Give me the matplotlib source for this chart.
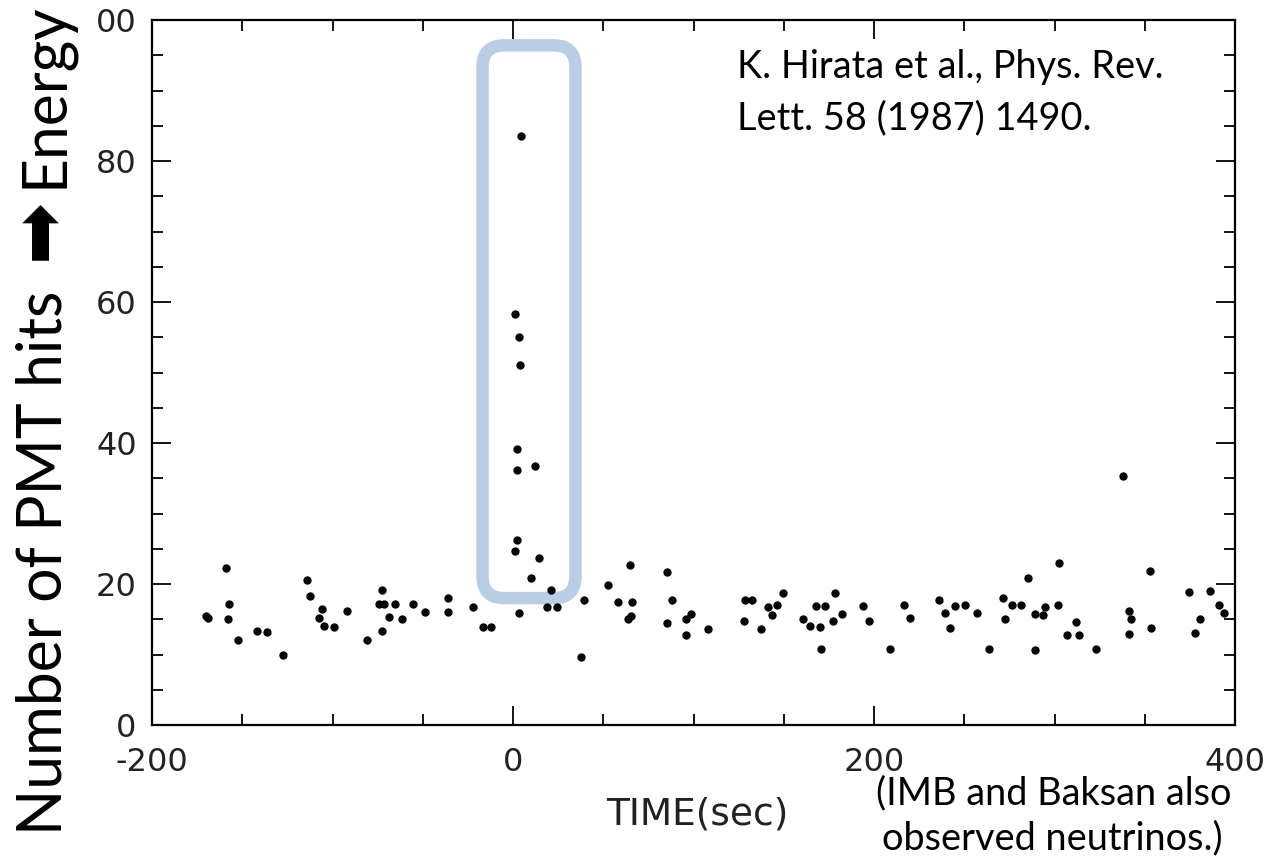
import matplotlib
matplotlib.use("Agg")
import matplotlib.pyplot as plt
from matplotlib.patches import FancyBboxPatch
from matplotlib.ticker import FixedLocator, FixedFormatter, MultipleLocator

plt.rcParams["font.family"] = ["DejaVu Sans"]
plt.rcParams["mathtext.fontset"] = "dejavusans"

# ---------------- data ----------------
time_s = [
    -170.0, -169.0, -159.0, -157.5, -157.7, -152.5, -142.0, -136.5, -127.2,
    -114.3, -112.3, -105.8, -107.7, -104.7, -99.0, -92.1, -80.7, -72.7,
    -74.0, -71.5, -68.5, -72.7, -65.4, -61.3, -55.4, -48.6, -35.8, -35.8,
    -22.0, -16.4, -12.4, 3.5,
    4.6, 1.3, 3.5, 3.9, 2.0, 2.0, 12.0, 2.2, 1.3, 14.2, 10.1, 21.0,
    19.0, 24.5, 39.3, 37.5, 52.8, 58.3, 65.0, 65.7, 63.5, 65.5,
    85.1, 87.9, 85.1, 95.8, 98.4, 95.7, 107.9,
    128.5, 132.2, 128.1, 137.2, 141.5, 146.1, 143.3, 149.4, 160.5, 164.5,
    170.0, 167.9, 172.9, 178.6, 177.5, 182.2, 170.4, 193.8, 197.0, 208.8,
    216.4, 220.1, 236.2, 239.3, 242.1, 244.7, 250.2, 257.2, 263.5, 271.6,
    272.7, 276.2, 281.2, 285.5,
    289.2, 294.5, 293.8, 289.2, 302.3, 302.1, 311.9, 307.1, 313.4, 322.8,
    338.0, 341.1, 342.4, 341.3, 352.9, 353.3, 374.7, 386.1, 380.6, 377.8,
    391.3, 394.1,
]
pmt_hits = [
    15.5, 15.2, 22.3, 17.2, 15.1, 12.1, 13.4, 13.2, 10.0,
    20.5, 18.3, 16.4, 15.2, 14.1, 13.9, 16.1, 12.0, 19.2,
    17.2, 17.2, 15.3, 13.3, 17.1, 15.0, 17.1, 16.0, 18.0, 16.05,
    16.8, 13.9, 13.9, 15.9,
    83.5, 58.3, 55.0, 51.0, 39.1, 36.1, 36.8, 26.3, 24.7, 23.7, 20.8, 19.1,
    16.8, 16.8, 17.8, 9.7, 19.8, 17.5, 22.7, 17.5, 15.0, 15.5,
    21.7, 17.7, 14.5, 15.0, 15.7, 12.7, 13.6,
    17.7, 17.7, 14.7, 13.6, 16.7, 17.0, 15.6, 18.7, 15.0, 14.0,
    13.9, 16.9, 16.9, 18.7, 14.7, 15.7, 10.75, 16.9, 14.8, 10.75,
    17.0, 15.2, 17.8, 15.9, 13.8, 16.9, 17.0, 15.9, 10.75, 18.0,
    15.1, 17.0, 17.0, 20.8,
    15.8, 16.8, 15.6, 10.7, 23.0, 17.0, 14.6, 12.7, 12.7, 10.8,
    35.3, 16.1, 15.0, 12.9, 21.8, 13.8, 18.9, 19.0, 15.1, 13.0,
    17.0, 15.9,
]
x_ticks = [-200, 0, 200, 400]
x_tick_labels = ["-200", "0", "200", "400"]
y_ticks = [0, 20, 40, 60, 80, 100]
y_tick_labels = ["0", "20", "40", "60", "80", "00"]
ylabel_parts = ["Number of PMT hits", "$\\mathrm{\u27A1}$", "Energy"]

# highlighted burst region (x0, y0, x1, y1) in data units
burst_box = (-16.9, 18.0, 34.6, 96.4)

# ---------------- figure ----------------
W, H = 1271, 859
fig = plt.figure(figsize=(W / 100, H / 100), dpi=100)
fig.patch.set_facecolor("white")
ax = fig.add_axes([152 / W, 1 - 725 / H, (1235 - 152) / W, (725 - 20) / H])
ax.set_xlim(-200, 400)
ax.set_ylim(0, 100)

bx0, by0, bx1, by1 = burst_box
box = FancyBboxPatch((bx0, by0), bx1 - bx0, by1 - by0,
                     boxstyle="round,pad=0,rounding_size=12",
                     mutation_aspect=0.258, fill=False,
                     edgecolor="#B9CDE5", linewidth=9, zorder=2,
                     clip_on=False)
ax.add_patch(box)

ax.plot(time_s, pmt_hits, linestyle="none", marker="o", markersize=6,
        color="black", markeredgewidth=0, zorder=3)

ax.xaxis.set_major_locator(FixedLocator(x_ticks))
ax.xaxis.set_major_formatter(FixedFormatter(x_tick_labels))
ax.xaxis.set_minor_locator(MultipleLocator(50))
ax.yaxis.set_major_locator(FixedLocator(y_ticks))
ax.yaxis.set_major_formatter(FixedFormatter(y_tick_labels))
ax.yaxis.set_minor_locator(MultipleLocator(5))

ax.tick_params(which="both", direction="in", top=True, right=True,
               width=1.3, color="black")
ax.tick_params(which="major", length=14, labelsize=23,
               labelcolor="#222222")
ax.tick_params(axis="x", which="major", pad=16)
ax.tick_params(axis="y", which="major", pad=11)
ax.tick_params(which="minor", length=8)
for sp in ax.spines.values():
    sp.set_linewidth(1.6)
    sp.set_color("black")

fig.text(697 / W, 1 - 815 / H, "TIME(sec)", fontsize=27, ha="center",
         va="center", family="DejaVu Sans", color="#222222")

# y label built from three pieces so the arrow can be drawn larger
lab_kw = dict(rotation=90, rotation_mode="anchor", color="black",
              family=["Lato", "DejaVu Sans"])
ylab1 = fig.text(62 / W, 1 - 835 / H, ylabel_parts[0], ha="left",
                 va="baseline", fontsize=43, **lab_kw)
ylab2 = fig.text(43 / W, 1 - 234 / H, ylabel_parts[1], ha="center",
                 va="center", fontsize=50, rotation=90,
                 rotation_mode="anchor", color="black")
ylab3 = fig.text(62 / W, 1 - 188 / H, ylabel_parts[2], ha="left",
                 va="baseline", fontsize=43, **lab_kw)

cite1 = fig.text(737 / W, 1 - 78 / H, "K. Hirata et al., Phys. Rev.",
                 ha="left", va="baseline", family=["Lato", "DejaVu Sans"],
                 fontsize=29, color="black")
cite2 = fig.text(737 / W, 1 - 129 / H, "Lett. 58 (1987) 1490.",
                 ha="left", va="baseline", family=["Lato", "DejaVu Sans"],
                 fontsize=29, color="black")
note1 = fig.text(876 / W, 1 - 804 / H, "(IMB and Baksan also",
                 ha="left", va="baseline", family=["Lato", "DejaVu Sans"],
                 fontsize=29, color="black")
note2 = fig.text(882 / W, 1 - 849 / H, "observed neutrinos.)",
                 ha="left", va="baseline", family=["Lato", "DejaVu Sans"],
                 fontsize=29, color="black")

# fit text sizes to the measured extents of the reference
fig.canvas.draw()
r = fig.canvas.get_renderer()
for _ in range(2):
    e = ylab1.get_window_extent(r)
    s = ylab1.get_fontsize() * 545 / e.height
    ylab1.set_fontsize(s)
    ylab3.set_fontsize(s)
    e = ylab2.get_window_extent(r)
    ylab2.set_fontsize(ylab2.get_fontsize() * 62 / e.height)
    e = cite1.get_window_extent(r)
    s = cite1.get_fontsize() * 426 / e.width
    for t in (cite1, cite2, note1, note2):
        t.set_fontsize(s)
    fig.canvas.draw()

fig.savefig("out.png", dpi=100, facecolor="white")
